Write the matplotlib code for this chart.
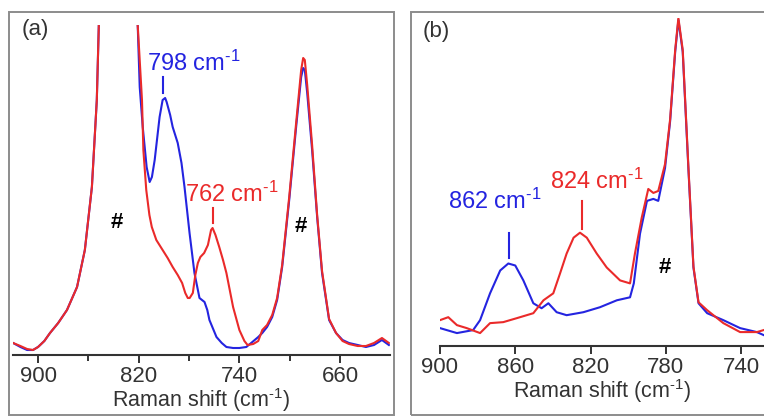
import matplotlib
matplotlib.use("Agg")
import matplotlib.pyplot as plt
from matplotlib.patches import Rectangle

plt.rcParams["font.family"] = ["Liberation Sans", "DejaVu Sans"]
plt.rcParams["mathtext.fontset"] = "custom"
plt.rcParams["mathtext.rm"] = "Liberation Sans"
plt.rcParams["mathtext.it"] = "Liberation Sans:italic"
plt.rcParams["mathtext.bf"] = "Liberation Sans:bold"

BLUE = "#2424e0"
RED = "#ea2a2a"
GREY = "#333333"
CM = r"cm$^{\text{-}1}$"

# Panel (a) : spectres (nombre d'onde, intensité arbitraire)
wa_blue = [919.8, 914, 908.7, 904, 900, 895, 890.5, 884, 877, 869, 862.8, 857.2, 853.3,
           851.7, 836, 820.8, 819.2, 816.8, 813.7, 811.3, 809.5, 807.3, 803.4, 801, 799,
           797.8, 795, 793, 789, 786, 783.6, 779.6, 775.7, 771.7, 767.7, 765.5, 763.8,
           758.2, 754, 750.3, 745, 740, 734.5, 729.7, 725, 721.8, 718, 713.9, 710, 706,
           700.4, 694.9, 690.9, 689.3, 688, 686.1, 682.2, 678.2, 674.3, 668.7, 663.2, 658,
           652.9, 646, 639.4, 633, 626.7, 621.2]
ia_blue = [12, 8, 5, 5, 8, 14, 22, 32, 45, 68, 105, 168, 255,
           330, 520, 330, 268, 228, 188, 173, 178, 195, 238, 255, 257,
           253, 240, 228, 212, 192, 168, 122, 82, 57, 53, 45, 35,
           18, 12, 8, 7, 7, 8, 13, 18, 22, 28, 38, 55, 88,
           155, 228, 278, 287, 285, 262, 205, 138, 82, 35, 22, 15,
           12, 10, 8, 10, 15, 10]

wa_red = [919.8, 914, 908.7, 904, 900, 895, 890.5, 884, 877, 869, 862.8, 857.2, 853.3,
          851.7, 836, 820.8, 817.4, 816.3, 814, 811.5, 809.6, 806, 801, 797, 793, 789,
          785.5, 783, 781, 779.5, 777, 775, 773, 771, 768, 765, 762.5, 761.3, 759, 756,
          753, 750.3, 745, 740, 736, 733.5, 729, 725, 721.8, 718, 713.9, 710, 706, 700.4,
          694.9, 690.9, 689.3, 688, 686.1, 682.2, 678.2, 674.3, 668.7, 663.2, 658, 652.9,
          646, 639.4, 633, 626.7, 621.2]
ia_red = [12, 9, 6, 5, 8, 14, 22, 32, 45, 68, 105, 168, 255,
          330, 520, 330, 255, 205, 165, 140, 128, 115, 105, 97, 88, 80,
          72, 62, 57, 57, 62, 80, 92, 98, 102, 110, 125, 127, 120, 108,
          95, 82, 48, 25, 14, 10, 11, 14, 25, 30, 40, 57, 90, 158,
          232, 285, 297, 295, 270, 210, 140, 84, 36, 22, 14, 11,
          9, 9, 12, 17, 12]

# Panel (b)
wb_blue = [900, 891, 882.4, 878.7, 873.4, 868, 863.7, 860, 855.7, 850.4, 846, 842.4,
           838, 832.7, 823.8, 815, 806, 799, 797, 793.7, 790, 786.6, 784, 780.4, 777.7,
           775, 773.3, 771, 768, 765.3, 762.6, 758, 749.4, 740.5, 731.6, 728]
ib_blue = [18, 13, 16, 26, 53, 76, 83, 81, 66, 43, 38, 43,
           34, 31, 34, 39, 46, 49, 63, 113, 146, 148, 146, 179, 226,
           296, 328, 296, 179, 79, 43, 33, 26, 18, 14, 11]

wb_red = [900, 895.6, 891, 885.8, 878.7, 873.4, 866.4, 859.2, 850.4, 845, 839.8, 836.2,
          832.7, 829, 825.6, 822, 816.7, 811.4, 804.3, 799, 796.4, 792.8, 789.3, 786.6,
          784, 780.4, 777.7, 775, 773.3, 771, 768, 765.3, 762.6, 758, 749.4, 740.5,
          731.6, 728]
ib_red = [26, 29, 21, 18, 13, 23, 24, 28, 33, 46, 53, 73,
          93, 109, 114, 109, 93, 79, 66, 63, 93, 129, 158, 154,
          156, 183, 228, 298, 330, 298, 181, 80, 44, 36, 23, 14,
          14, 16]

fig = plt.figure(figsize=(7.64, 4.16), dpi=100)
W, H = 764.0, 416.0


def frame(x0, y0, x1, y1):
    fig.patches.append(Rectangle((x0 / W, 1 - y1 / H), (x1 - x0) / W, (y1 - y0) / H,
                                 transform=fig.transFigure, fill=False,
                                 edgecolor="#8c8c8c", linewidth=1.4))


def style(ax):
    for s in ["left", "right", "top"]:
        ax.spines[s].set_visible(False)
    ax.spines["bottom"].set_color(GREY)
    ax.spines["bottom"].set_linewidth(1.5)
    ax.set_yticks([])
    ax.tick_params(axis="x", which="major", direction="out", length=6, width=1.4,
                   color=GREY, labelcolor=GREY, labelsize=16, pad=2)
    ax.tick_params(axis="x", which="minor", direction="out", length=4, width=1.4,
                   color=GREY)
    ax.set_xlabel("Raman shift (" + CM + ")", fontsize=15.5, color=GREY, labelpad=-1)
    ax.patch.set_alpha(0)


# (a)
frame(9, 12, 394, 415)
axa = fig.add_axes([13 / W, 1 - 355 / H, (390 - 13) / W, (355 - 25) / H])
axa.plot(wa_blue, ia_blue, color=BLUE, lw=1.5)
axa.plot(wa_red, ia_red, color=RED, lw=1.5)
axa.set_xlim(919.9, 620.3)
axa.set_ylim(0, 330)
axa.set_xticks([900, 820, 740, 660])
axa.set_xticks([860, 780, 700], minor=True)
style(axa)
axa.text(813.4, 292, "798 " + CM, color=BLUE, fontsize=17, ha="left", va="center")
axa.plot([800.6, 800.6], [262, 278], color=BLUE, lw=1.5)
axa.text(783.2, 161, "762 " + CM, color=RED, fontsize=17, ha="left", va="center")
axa.plot([760.9, 760.9], [132, 147], color=RED, lw=1.5)
axa.text(837.2, 132, "#", fontsize=16, fontweight="bold", ha="center", va="center")
axa.text(691, 128, "#", fontsize=16, fontweight="bold", ha="center", va="center")
fig.text(22 / W, 1 - 30 / H, "(a)", fontsize=16, color=GREY, ha="left", va="center")

# (b)
frame(411, 12, 766, 415)
axb = fig.add_axes([440 / W, 1 - 346 / H, (764 - 440) / W, (346 - 18) / H])
axb.plot(wb_blue, ib_blue, color=BLUE, lw=1.5)
axb.plot(wb_red, ib_red, color=RED, lw=1.5)
axb.set_xlim(900, 727.8)
axb.set_ylim(0, 330)
axb.set_xticks([900, 860, 820, 780, 740])
style(axb)
axb.text(895.7, 146, "862 " + CM, color=BLUE, fontsize=17, ha="left", va="center")
axb.plot([863.3, 863.3], [89, 114], color=BLUE, lw=1.5)
axb.text(841.5, 166, "824 " + CM, color=RED, fontsize=17, ha="left", va="center")
axb.plot([824.5, 824.5], [118, 146], color=RED, lw=1.5)
axb.text(780.4, 79, "#", fontsize=16, fontweight="bold", ha="center", va="center")
fig.text(423 / W, 1 - 32 / H, "(b)", fontsize=16, color=GREY, ha="left", va="center")

fig.savefig("out.png", dpi=100)
